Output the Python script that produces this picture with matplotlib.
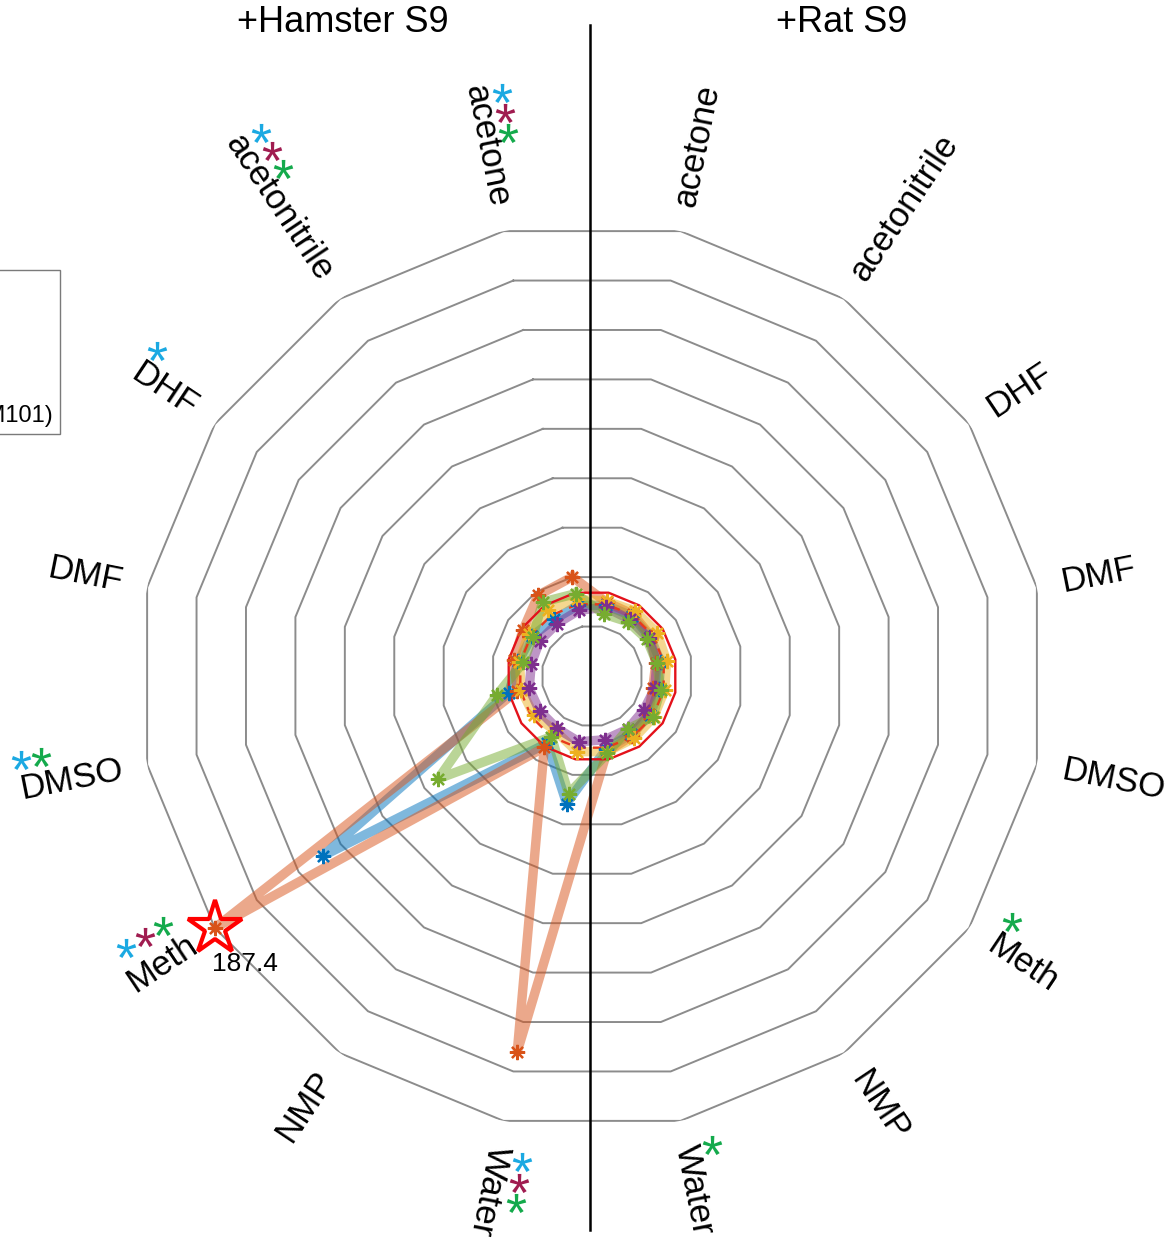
import numpy as np
import matplotlib
matplotlib.use("Agg")
import matplotlib.pyplot as plt
from matplotlib.font_manager import FontProperties
from matplotlib.textpath import TextPath
from matplotlib.path import Path
from matplotlib.lines import Line2D

plt.rcParams["font.family"] = ["Liberation Sans", "DejaVu Sans"]

# ---------------------------------------------------------------- data
solvents = ["acetone", "acetonitrile", "DHF", "DMF", "DMSO", "Meth", "NMP", "Water"]
panel_titles = ["+Hamster S9", "+Rat S9"]
strains = ["TA98", "TA100", "TA1535", "TA1537", "E. coli WP2 uvrA (pKM101)"]
strain_colors = ["#0072BD", "#D95319", "#EDB120", "#7E2F8E", "#77AC30"]

# response per solvent (acetone ... Water), hamster S9 half
hamster_ta98 = [28.6, 27.0, 28.6, 29.8, 33.7, 128.6, 32.1, 51.6]
hamster_ta100 = [40.1, 38.5, 32.9, 31.7, 30.2, 187.4, 34.1, 152.0]
hamster_ta1535 = [31.0, 31.7, 30.2, 29.4, 28.6, 27.8, 26.2, 30.6]
hamster_ta1537 = [26.6, 25.0, 25.0, 24.6, 25.4, 25.0, 25.0, 26.6]
hamster_wp2 = [33.3, 35.3, 28.2, 27.8, 38.5, 73.4, 29.0, 47.6]

# response per solvent (acetone ... Water), rat S9 half
rat_ta98 = [28.6, 28.6, 27.8, 27.8, 27.0, 27.8, 27.8, 29.4]
rat_ta100 = [29.8, 29.4, 28.2, 25.8, 24.6, 27.0, 28.6, 30.6]
rat_ta1535 = [30.2, 31.0, 31.0, 30.2, 29.4, 29.4, 29.8, 30.6]
rat_ta1537 = [27.8, 27.0, 27.0, 26.2, 25.4, 24.6, 25.4, 25.8]
rat_wp2 = [25.0, 25.8, 26.2, 26.2, 27.8, 29.0, 25.4, 31.3]

hamster_series = [hamster_ta98, hamster_ta100, hamster_ta1535, hamster_ta1537, hamster_wp2]
rat_series = [rat_ta98, rat_ta100, rat_ta1535, rat_ta1537, rat_wp2]

ring_levels = [20, 40, 60, 80, 100, 120, 140, 160, 180]
threshold_solid = 33.7
threshold_dashed = 29.0

# significance flags per solvent: c / m / g groups
sig_hamster = {"acetone": "cmg", "acetonitrile": "cmg", "DHF": "c",
               "DMSO": "cg", "Meth": "cmg", "Water": "cmg"}
sig_rat = {"Meth": "g", "Water": "g"}
sig_colors = {"c": "#1BA9E2", "m": "#A01C50", "g": "#14AA4C"}

# ---------------------------------------------------------------- layout
W, H, DPI = 1169, 1243, 100
fig = plt.figure(figsize=(W / DPI, H / DPI), dpi=DPI)
fig.patch.set_facecolor("white")

cx, cy, R = 592, 676, 453.6
ax = fig.add_axes([(cx - R) / W, (H - cy - R) / H, 2 * R / W, 2 * R / H],
                  projection="polar")
r_max = ring_levels[-1]
ax.set_ylim(0, r_max)
ax.grid(False)
ax.set_xticks([])
ax.set_yticks([])
ax.spines["polar"].set_visible(False)
ax.patch.set_alpha(0)

step = np.deg2rad(22.5)
ham_theta = np.pi / 2 + step / 2 + step * np.arange(len(solvents))
rat_theta = np.pi / 2 - step / 2 - step * np.arange(len(solvents))
loop_theta = np.concatenate([ham_theta, rat_theta[::-1], ham_theta[:1]])


def closed_loop(h_vals, r_vals):
    h = np.minimum(np.asarray(h_vals, float), r_max)
    r = np.minimum(np.asarray(r_vals, float), r_max)
    return np.concatenate([h, r[::-1], h[:1]])


# polygon grid
for lev in ring_levels:
    ax.plot(loop_theta, np.full(loop_theta.size, lev), color="#8c8c8c",
            lw=1.4, zorder=1)

# series lines
for h_vals, r_vals, col in zip(hamster_series, rat_series, strain_colors):
    ax.plot(loop_theta, closed_loop(h_vals, r_vals), color=col, lw=6.8,
            alpha=0.5, solid_joinstyle="round", zorder=2, clip_on=False)

# reference rings
ax.plot(loop_theta, np.full(loop_theta.size, threshold_solid), color="#E3121B",
        lw=1.7, zorder=4)
ax.plot(loop_theta, np.full(loop_theta.size, threshold_dashed), color="#E8391B",
        lw=1.7, ls=(0, (4, 3)), zorder=4)

# series markers
for h_vals, r_vals, col in zip(hamster_series, rat_series, strain_colors):
    rr = closed_loop(h_vals, r_vals)
    ax.plot(loop_theta[:-1], rr[:-1], ls="none", marker=(8, 2, 0), ms=11,
            mew=1.6, color=col, zorder=5, clip_on=False)

# off-scale value call-out
for h_vals in hamster_series:
    for i, v in enumerate(h_vals):
        if v > r_max:
            ax.plot(ham_theta[i], r_max, marker="*", ms=41, mfc="none",
                    mec="#FF0000", mew=3, zorder=6, clip_on=False)
            ax.annotate(f"{v}", xy=(ham_theta[i], r_max), xytext=(30, -36),
                        textcoords="offset pixels", fontsize=19,
                        ha="center", va="center", zorder=7)

# axis labels
label_r = 190
for i, name in enumerate(solvents):
    for th in (ham_theta[i], rat_theta[i]):
        deg = np.rad2deg(th) % 360
        if 90 < deg < 255:
            rot, ha = deg - 180, "right"
        else:
            rot, ha = (deg if deg <= 90 else deg - 360), "left"
        ax.text(th, label_r, name, rotation=rot, rotation_mode="anchor",
                ha=ha, va="center", fontsize=25)

# significance asterisks next to labels (glyph outline used as a centred marker)
tp = TextPath((0, 0), "*", size=1, prop=FontProperties(family="Liberation Sans"))
verts = tp.vertices.copy()
codes = tp.codes.copy()
for i in range(len(codes)):
    if codes[i] == Path.CLOSEPOLY:
        verts[i] = verts[i - 1]
lo, hi = verts.min(axis=0), verts.max(axis=0)
verts = verts - (lo + hi) / 2
ast_marker = Path(verts, codes)

sig_layout = {
    ("h", "acetone"): (234.1, -8.1, -2.45),
    ("h", "acetonitrile"): (252.4, -8.3, -2.4),
    ("h", "DHF"): (215.5, -8.2, -2.95),
    ("h", "DMSO"): (229.0, -8.0, -2.9),
    ("h", "Meth"): (213.9, -8.4, -3.5),
    ("h", "Water"): (194.8, 8.3, 3.0),
    ("r", "Meth"): (193.3, 8.2, 3.35),
    ("r", "Water"): (192.1, 8.2, 3.05),
}
for side, flags_map, thetas in (("h", sig_hamster, ham_theta), ("r", sig_rat, rat_theta)):
    for name, flags in flags_map.items():
        r0, dr, dth = sig_layout[(side, name)]
        th = thetas[solvents.index(name)] + np.deg2rad(dth)
        for k, ch in enumerate(flags):
            ax.plot(th, r0 + k * dr, ls="none", marker=ast_marker, ms=14,
                    mew=0, color=sig_colors[ch], clip_on=False, zorder=6)

# panel titles and divider
fig.text(343 / W, 1 - 22 / H, panel_titles[0], fontsize=26, ha="center", va="center")
fig.text(842 / W, 1 - 22 / H, panel_titles[1], fontsize=26, ha="center", va="center")
fig.add_artist(Line2D([590 / W, 590 / W], [1 - 25 / H, 1 - 1230 / H],
                      color="black", lw=1.8))

# legend
handles = [Line2D([], [], color=c, lw=5, alpha=0.5, marker=(8, 2, 0), ms=10,
                  mec=c, mfc=c) for c in strain_colors]
fig.legend(handles, strains, loc="lower right",
           bbox_to_anchor=(60 / W, 1 - 434 / H), bbox_transform=fig.transFigure,
           fontsize=17, fancybox=False, edgecolor="#7a7a7a", framealpha=1,
           borderaxespad=0, labelspacing=0.42, borderpad=0.3)

fig.savefig("out.png", dpi=DPI)
